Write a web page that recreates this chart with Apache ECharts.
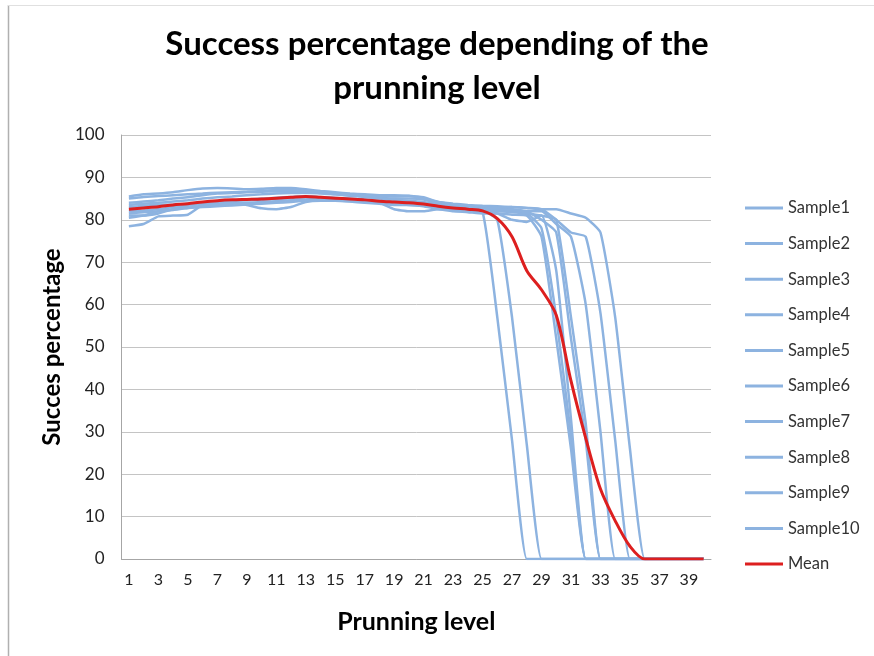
<!DOCTYPE html>
<html>
<head>
<meta charset="utf-8">
<script src="https://cdn.jsdelivr.net/npm/echarts@6/dist/echarts.min.js"></script>
<style>html,body{margin:0;padding:0;background:#fff;}#c{width:874px;height:656px;}</style>
</head>
<body>
<div id="c"></div>
<script>
const categories = ['1','2','3','4','5','6','7','8','9','10','11','12','13','14','15','16','17','18','19','20','21','22','23','24','25','26','27','28','29','30','31','32','33','34','35','36','37','38','39','40'];

const sample1 = [85.5,86.0,86.2,86.5,87.0,87.4,87.5,87.4,87.2,87.3,87.5,87.5,87.2,86.8,86.5,86.2,86.0,85.8,85.8,85.7,85.3,84.2,83.8,83.5,83.3,83.2,83.0,82.8,82.5,82.5,81.5,80.5,77,57,26,0,0,0,0,0];
const sample2 = [78.5,79.0,80.8,81.0,81.2,83.5,84.2,84.5,84.6,84.8,85.0,85.2,85.4,85.2,85.0,84.8,84.5,84.3,84.0,83.8,83.5,83.0,82.5,82.2,81.8,57,28,0,0,0,0,0,0,0,0,0,0,0,0,0];
const sample3 = [81.0,81.0,81.5,82.5,83.5,84.0,84.3,84.5,84.8,85.0,85.2,85.4,85.6,85.4,85.2,85.0,84.8,84.5,84.3,84.1,83.8,83.3,82.9,82.6,82.3,80,57,27,0,0,0,0,0,0,0,0,0,0,0,0];
const sample4 = [84.0,84.3,84.6,85.0,85.3,85.8,86.2,86.3,86.5,86.6,86.7,86.8,86.9,86.5,86.0,85.8,85.5,85.2,85.0,85.0,84.8,84.0,83.5,83.0,82.8,82.5,82.2,81.5,78,57,29,0,0,0,0,0,0,0,0,0];
const sample5 = [82.0,82.2,82.5,83.0,83.3,83.8,84.0,84.2,83.5,82.7,82.5,83.0,84.2,84.5,84.5,84.3,84.0,83.8,83.5,83.5,83.2,82.5,82.3,82.0,81.8,81.5,80.0,79.5,81,68,33,0,0,0,0,0,0,0,0,0];
const sample6 = [83.0,83.3,83.5,83.6,83.8,84.0,84.3,84.5,84.7,84.8,85.0,85.2,85.3,85.0,84.8,84.6,84.3,84.0,82.5,82.0,82.0,82.5,82.0,81.8,81.5,81.5,81.2,81.0,76,52,26,0,0,0,0,0,0,0,0,0];
const sample7 = [85.0,85.4,85.6,85.8,86.0,86.2,86.4,86.5,86.6,86.8,87.0,87.0,86.8,86.5,86.2,86.0,85.7,85.5,85.5,85.6,85.0,84.2,83.6,83.3,83.0,82.8,82.5,82.0,80,77,52,28,0,0,0,0,0,0,0,0];
const sample8 = [81.5,81.8,82.0,82.3,82.8,83.3,83.6,83.8,84.0,84.2,84.4,84.6,84.8,84.8,84.6,84.4,84.2,84.0,83.8,83.5,83.3,83.0,82.6,82.3,82.0,82.0,81.8,81.5,81,80,57,32,0,0,0,0,0,0,0,0];
const sample9 = [83.5,83.8,84.0,84.3,84.6,85.0,85.3,85.5,85.8,86.0,86.2,86.3,86.4,86.2,86.0,85.7,85.4,85.0,84.7,84.5,84.2,83.7,83.3,83.0,82.7,82.5,82.3,82.0,82,79,76,60,30,0,0,0,0,0,0,0];
const sample10 = [80.5,81.0,82.0,82.5,82.8,83.0,83.2,83.4,83.6,83.8,84.0,84.2,84.5,84.7,84.8,84.6,84.4,84.2,84.0,83.7,83.5,83.2,83.0,82.8,82.6,82.8,83.0,82.8,82.5,80,77,76,58,28,0,0,0,0,0,0];
const meanValues = [82.5,82.8,83.1,83.5,83.8,84.2,84.5,84.7,84.8,84.9,85.1,85.3,85.5,85.3,85.1,84.9,84.7,84.4,84.2,84.0,83.7,83.2,82.8,82.5,82.1,80.3,76,68,63.5,57.5,42,28.5,16.5,9,3,0,0,0,0,0];

const sampleNames = ['Sample1','Sample2','Sample3','Sample4','Sample5','Sample6','Sample7','Sample8','Sample9','Sample10'];
const sampleData = [sample1,sample2,sample3,sample4,sample5,sample6,sample7,sample8,sample9,sample10];

const FONT = 'Lato';
const series = sampleData.map((d, i) => ({
  name: sampleNames[i], type: 'line', data: d, symbol: 'none', smooth: 0.15,
  lineStyle: { color: '#8db3e0', width: 2.5 }, itemStyle: { color: '#8db3e0' }
}));
series.push({
  name: 'Mean', type: 'line', data: meanValues, symbol: 'none', smooth: 0.3,
  lineStyle: { color: '#dd1f1f', width: 3 }, itemStyle: { color: '#dd1f1f' }
});

const chart = echarts.init(document.getElementById('c'));
chart.setOption({
  animation: false,
  textStyle: { fontFamily: FONT },
  title: {
    text: 'Success percentage depending of the\nprunning level',
    left: 'center', top: 17,
    textStyle: { fontFamily: FONT, fontSize: 33, fontWeight: 'bold', color: '#000', lineHeight: 44 }
  },
  graphic: [
    { type: 'line', shape: { x1: 8.5, y1: 5, x2: 8.5, y2: 656 }, style: { stroke: '#b0b0b0', lineWidth: 1.5 } },
    { type: 'line', shape: { x1: 8, y1: 5.5, x2: 874, y2: 5.5 }, style: { stroke: '#e0e0e0', lineWidth: 1 } }
  ],
  legend: {
    orient: 'vertical', left: 740, top: 194,
    icon: 'rect', itemWidth: 38, itemHeight: 3, itemGap: 17.6,
    textStyle: { fontFamily: FONT, fontSize: 16.5, color: '#333', lineHeight: 18 },
    data: sampleNames.concat(['Mean'])
  },
  grid: { left: 121.5, right: 163, top: 135, bottom: 97 },
  xAxis: {
    type: 'category', data: categories, boundaryGap: true,
    name: 'Prunning level', nameLocation: 'middle', nameGap: 50,
    nameTextStyle: { fontFamily: FONT, fontSize: 25, fontWeight: 'bold', color: '#000' },
    axisLine: { lineStyle: { color: '#a6a6a6' } },
    axisTick: { show: false },
    axisLabel: { interval: 1, fontFamily: FONT, fontSize: 16, color: '#222', margin: 13 },
    splitLine: { show: false }
  },
  yAxis: {
    type: 'value', min: 0, max: 100, interval: 10,
    name: 'Succes percentage', nameLocation: 'middle', nameGap: 57,
    nameTextStyle: { fontFamily: FONT, fontSize: 24, fontWeight: 'bold', color: '#000' },
    axisLine: { show: true, lineStyle: { color: '#a6a6a6' } },
    axisTick: { show: false },
    axisLabel: { fontFamily: FONT, fontSize: 17, color: '#222', margin: 17 },
    splitLine: { lineStyle: { color: '#c4c4c4', width: 1 } }
  },
  series: series
});
</script>
</body>
</html>
